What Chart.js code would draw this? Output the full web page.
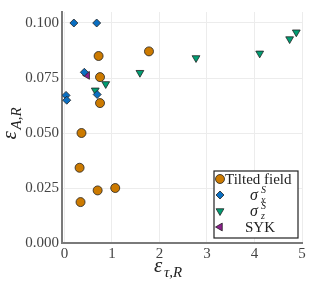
<!DOCTYPE html>
<html>
<head>
<meta charset="utf-8">
<script src="https://cdn.jsdelivr.net/npm/chart.js@4/dist/chart.umd.min.js"></script>
<style>
  html, body { margin: 0; padding: 0; background: #fff; }
  #wrap { width: 312px; height: 283px; }
</style>
</head>
<body>
<div id="wrap"><canvas id="chart"></canvas></div>
<script>
// values
const tiltedX = [1.78, 0.72, 0.75, 0.75, 0.36, 0.32, 0.70, 1.07, 0.34];
const tiltedY = [0.0871, 0.0850, 0.0754, 0.0636, 0.0500, 0.0342, 0.0239, 0.0250, 0.0186];

const sigmaXX = [0.20, 0.68, 0.42, 0.035, 0.05, 0.69];
const sigmaXY = [0.1000, 0.1000, 0.0776, 0.0671, 0.0649, 0.0675];

const sigmaZX = [0.65, 0.87, 1.59, 2.77, 4.11, 4.74, 4.88];
const sigmaZY = [0.0694, 0.0723, 0.0774, 0.0841, 0.0862, 0.0927, 0.0958];

const sykX = [0.48];
const sykY = [0.0762];

const yTicks = [0, 0.025, 0.05, 0.075, 0.1];
const xTicks = [0, 1, 2, 3, 4, 5];

const serif = "'Liberation Serif', 'DejaVu Serif', serif";

function pts(xs, ys) {
  return xs.map((x, i) => ({ x: x, y: ys[i] }));
}

const series = [
  { label: "Tilted field", sup: "", sub: "", data: pts(tiltedX, tiltedY), color: "#cc7a00", style: "circle", radius: 4.5, rot: 0 },
  { label: "σ", sup: "S", sub: "x", data: pts(sigmaXX, sigmaXY), color: "#0a6fc2", style: "rectRot", radius: 4, rot: 0 },
  { label: "σ", sup: "S", sub: "z", data: pts(sigmaZX, sigmaZY), color: "#009e73", style: "triangle", radius: 4.5, rot: 180 },
  { label: "SYK", sup: "", sub: "", data: pts(sykX, sykY), color: "#8e1f8e", style: "triangle", radius: 4.5, rot: 270 }
];

// axis titles and legend, drawn so the sub/superscripts come out right
const extras = {
  id: "extras",
  afterDraw(chart) {
    const ctx = chart.ctx;
    const area = chart.chartArea;
    ctx.save();
    ctx.fillStyle = "#222";
    ctx.textBaseline = "alphabetic";

    // x title
    const xc = (area.left + area.right) / 2;
    ctx.font = "italic 21px " + serif;
    ctx.textAlign = "left";
    ctx.fillText("ε", xc - 28, 272);
    ctx.font = "italic 15px " + serif;
    ctx.fillText("τ,R", xc - 18, 277);

    // y title
    ctx.translate(16, (area.top + area.bottom) / 2);
    ctx.rotate(-Math.PI / 2);
    ctx.font = "italic 21px " + serif;
    ctx.fillText("ε", -12, 0);
    ctx.font = "italic 15px " + serif;
    ctx.fillText("A,R", -2, 5);
    ctx.setTransform(1, 0, 0, 1, 0, 0);

    // legend box
    const bx = 214, by = 171, bw = 84, bh = 67;
    ctx.fillStyle = "#fff";
    ctx.fillRect(bx, by, bw, bh);
    ctx.strokeStyle = "#222";
    ctx.lineWidth = 1.2;
    ctx.strokeRect(bx, by, bw, bh);

    series.forEach((s, i) => {
      const cy = 179 + i * 16;
      ctx.fillStyle = s.color;
      ctx.strokeStyle = "#222";
      ctx.lineWidth = 0.8;
      Chart.helpers.drawPoint(ctx, { pointStyle: s.style, radius: s.radius, rotation: s.rot, borderWidth: 0.8 }, 220, cy);
      ctx.fillStyle = "#222";
      if (s.sup) {
        ctx.textAlign = "left";
        ctx.font = "italic 16px " + serif;
        ctx.fillText(s.label, 250, cy + 5);
        ctx.font = "italic 10px " + serif;
        ctx.fillText(s.sup, 261, cy - 2);
        ctx.fillText(s.sub, 261, cy + 8);
      } else if (s.label === "SYK") {
        ctx.textAlign = "center";
        ctx.font = "15px " + serif;
        ctx.fillText(s.label, 260, cy + 5);
      } else {
        ctx.textAlign = "left";
        ctx.font = "15px " + serif;
        ctx.fillText(s.label, 225, cy + 5);
      }
    });
    ctx.restore();
  }
};

new Chart(document.getElementById("chart"), {
  type: "scatter",
  data: {
    datasets: series.map(s => ({
      label: s.label,
      data: s.data,
      pointStyle: s.style,
      pointRadius: s.radius,
      pointRotation: s.rot,
      backgroundColor: s.color,
      borderColor: "#222",
      borderWidth: 0.8
    }))
  },
  options: {
    responsive: true,
    maintainAspectRatio: false,
    animation: false,
    layout: { padding: { top: 4, right: 10, left: 0, bottom: 0 } },
    plugins: {
      legend: { display: false },
      tooltip: { enabled: false }
    },
    scales: {
      x: {
        type: "linear",
        min: -0.05,
        max: 5.0,
        afterFit: s => { s.height = 40; },
        afterBuildTicks: s => { s.ticks = xTicks.map(v => ({ value: v })); },
        grid: { color: "#ececec", lineWidth: 1, drawTicks: false },
        border: { display: true, color: "#7a7a7a", width: 2 },
        ticks: {
          color: "#444",
          font: { family: serif, size: 15 },
          padding: 2,
          maxRotation: 0,
          callback: v => String(v)
        }
      },
      y: {
        type: "linear",
        min: 0,
        max: 0.105,
        afterFit: s => { s.width = 62; },
        afterBuildTicks: s => { s.ticks = yTicks.map(v => ({ value: v })); },
        grid: { color: "#ececec", lineWidth: 1, drawTicks: false },
        border: { display: true, color: "#7a7a7a", width: 2 },
        ticks: {
          color: "#444",
          font: { family: serif, size: 15 },
          padding: 3,
          callback: v => v.toFixed(3)
        }
      }
    }
  },
  plugins: [extras]
});
</script>
</body>
</html>
